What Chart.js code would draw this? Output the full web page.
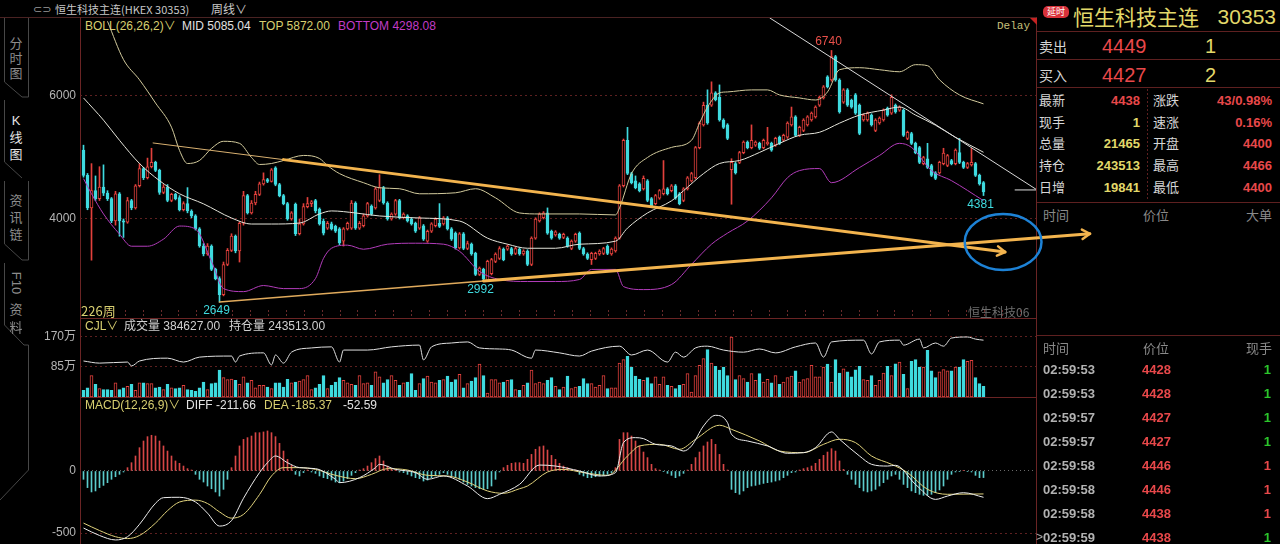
<!DOCTYPE html>
<html lang="zh-CN">
<head>
<meta charset="utf-8">
<title>恒生科技主连 周线</title>
<script src="https://cdn.jsdelivr.net/npm/chart.js@4.4.1/dist/chart.umd.min.js"></script>
<style>
  html, body { margin: 0; padding: 0; background: #000; }
  body { width: 1280px; height: 544px; position: relative; overflow: hidden;
         font-family: "Liberation Sans", "Noto Sans CJK SC", sans-serif; }
  canvas { position: absolute; }
  #main { z-index: 5; pointer-events: none; }
  .t { position: absolute; white-space: nowrap; line-height: 1; z-index: 3; }
  .ln { position: absolute; z-index: 2; }
  .badge { position: absolute; left: 1043px; top: 6px; width: 26px; height: 12px; background: #d8323a;
           border-radius: 5px; color: #fff; font-size: 9px; line-height: 12px; text-align: center;
           font-family: "Noto Sans CJK SC", sans-serif; }
  .tri { position: absolute; left: 1030px; top: 18px; width: 0; height: 0;
         border-top: 7px solid #c42222; border-left: 7px solid transparent; z-index: 6; }
</style>
</head>
<body>
<svg width="80" height="544" style="position:absolute;left:0;top:0" fill="none" stroke="#474747" stroke-width="1">
  <polyline points="4.5,18 4.5,82 22,97 28.5,97 28.5,18"/>
  <polyline points="4.5,100 4.5,162 22,178"/>
  <polyline points="4.5,181 4.5,244 22,260 28.5,260 28.5,181"/>
  <polyline points="4.5,263 4.5,325 24,345 28.5,345 28.5,470 0,500"/>
</svg>
<div class="badge">延时</div>
<div class="tri"></div>
<canvas id="main" width="1100" height="300" style="left:0;top:18px"></canvas>
<canvas id="vol" width="1036" height="67" style="left:0;top:330px"></canvas>
<canvas id="macd" width="1036" height="134" style="left:0;top:410px"></canvas>
<script>
// weekly candles (226 weeks)
var open = [
5120,4710,4180,4460,4330,4520,4420,4330,3970,4410,
3970,3950,4300,4180,4540,4820,4670,4850,4920,4790,
4430,4520,4300,4400,4350,4150,4250,4130,4050,3840,
3560,3430,3560,3180,3030,2770,3260,3490,3720,3480,
3930,4380,4100,4260,4400,4570,4640,4610,4830,4560,
4380,4250,4000,4240,3760,3920,4200,4250,4300,4160,
3960,3850,3920,3880,3840,3640,3840,3850,4260,3850,
3890,4050,4210,4180,4300,4510,4260,4000,4080,4300,
4020,4050,4000,3930,3850,3890,3640,3800,3890,3930,
3920,4020,3840,3770,3530,3760,3520,3590,3440,3100,
3180,3000,3110,3310,3360,3510,3510,3520,3440,3510,
3430,3480,3260,3690,3970,4020,4100,3800,3740,3750,
3700,3690,3520,3640,3770,3520,3430,3340,3360,3430,
3440,3560,3430,3480,3690,4540,5280,4740,4620,4570,
4490,4620,4330,4250,4340,4410,4490,4460,4540,4410,
4300,4490,4620,4670,5160,5530,5850,5850,6050,5980,
5610,5530,4800,4900,4920,5080,5250,5160,5200,5230,
5160,5220,5230,5200,5330,5280,5330,5530,5660,5360,
5440,5530,5610,5660,5850,5970,6310,6260,6640,6260,
5900,6100,5930,6020,5850,5610,5610,5690,5440,5560,
5610,5800,5720,5850,5770,5770,5310,5390,5230,5160,
4900,4980,4870,4750,4750,4900,4870,4950,4900,5080,
4920,4840,4880,4900,4710,4590
];
var high = [
5200,4740,4900,4700,4850,4880,4460,4350,4450,4430,
4000,4350,4320,4560,4900,4840,4990,5150,4940,4810,
4560,4560,4420,4420,4380,4280,4510,4150,4070,3860,
3600,3600,3580,3200,3060,3300,3520,3760,3740,3950,
4450,4400,4300,4450,4600,4750,4660,4820,4850,4580,
4400,4270,4120,4260,4000,4250,4350,4300,4320,4180,
4000,3960,3950,3900,3860,3860,3950,4300,4280,3960,
4080,4270,4230,4520,4720,4530,4280,4100,4320,4320,
4100,4070,4020,3950,4040,3910,3820,3940,4020,4250,
4040,4040,3860,3790,3780,3780,3640,3610,3460,3220,
3200,3330,3360,3450,3550,3530,3580,3540,3540,3530,
3500,3500,3710,4020,4100,4120,4180,3820,3810,3770,
3770,3710,3660,3770,3790,3540,3450,3460,3460,3500,
3540,3580,3530,3710,4560,5300,5490,4760,4700,4590,
4700,4640,4350,4400,4480,4950,4510,4560,4560,4430,
4510,4690,4760,5180,5580,5900,6100,6230,6070,6180,
5630,5550,4980,4920,5100,5270,5270,5530,5270,5250,
5300,5490,5250,5330,5350,5380,5580,5820,5680,5510,
5630,5680,5740,5840,6000,6170,6330,6740,6660,6280,
6120,6120,5950,6040,5870,5710,5740,5710,5630,5660,
5790,5820,6020,5870,5840,5790,5430,5410,5250,5180,
5020,5230,4890,4770,4940,5150,5050,4970,5140,5310,
4940,4920,5150,4920,4730,4610
];
var low = [
4680,4150,3330,4300,4300,4380,4300,3940,3900,3720,
3700,3930,4150,4160,4520,4640,4650,4830,4770,4400,
4410,4280,4280,4310,4130,4130,4100,4020,3820,3540,
3400,3410,3160,3010,2649,2750,3240,3470,3450,3300,
3900,4080,4080,4230,4380,4550,4590,4600,4540,4360,
4230,3980,3980,3730,3740,3900,4180,4200,4100,3900,
3740,3830,3820,3780,3580,3560,3820,3830,3830,3830,
3870,4030,4060,4160,4280,4240,3980,3980,4060,4000,
4000,3950,3900,3780,3830,3650,3620,3780,3870,3860,
3900,3820,3650,3510,3510,3500,3500,3410,3080,3080,
2992,2995,3090,3290,3340,3320,3490,3410,3420,3410,
3410,3240,3240,3670,3950,4000,3750,3670,3720,3670,
3680,3540,3500,3620,3500,3410,3340,3260,3340,3410,
3420,3420,3410,3460,3670,4520,4720,4570,4490,4440,
4470,4280,4190,4230,4320,4390,4390,4440,4320,4230,
4280,4470,4600,4650,5140,5510,5540,5830,5920,5590,
5470,5290,4240,4730,4900,5060,5140,5140,5180,5130,
5140,5200,5100,5180,5210,5260,5310,5510,5340,5340,
5420,5510,5590,5640,5830,5950,6130,6240,6240,5720,
5880,5830,5800,5700,5370,5590,5590,5510,5420,5540,
5590,5670,5700,5720,5750,5340,5290,5210,5060,4900,
4880,4820,4690,4640,4730,4880,4850,4880,4880,4900,
4820,4820,4860,4690,4550,4381
];
var close = [
4710,4180,4460,4330,4520,4420,4330,3970,4410,3970,
3950,4300,4180,4540,4820,4670,4850,4920,4790,4430,
4520,4300,4400,4330,4150,4250,4130,4050,3840,3560,
3430,3560,3180,3030,2770,3260,3490,3720,3480,3930,
4380,4100,4260,4400,4570,4640,4610,4800,4560,4380,
4250,4000,4100,3760,3920,4200,4250,4280,4130,3920,
3770,3930,3840,3800,3610,3840,3930,4260,3850,3930,
4050,4250,4080,4490,4510,4260,4000,4080,4300,4020,
4080,3970,3920,3800,4020,3670,3800,3920,4000,3880,
4020,3840,3670,3530,3760,3520,3600,3430,3100,3200,
3020,3310,3340,3430,3520,3340,3560,3430,3520,3430,
3480,3260,3690,4000,4080,4100,3770,3690,3790,3690,
3750,3560,3640,3750,3520,3430,3360,3440,3440,3480,
3520,3440,3510,3690,4540,5280,4740,4590,4510,4460,
4660,4300,4210,4380,4460,4490,4410,4540,4340,4250,
4490,4670,4740,5160,5560,5850,5560,6050,5940,5610,
5490,5310,4920,4750,5080,5250,5160,5280,5250,5150,
5280,5250,5120,5310,5230,5360,5560,5660,5360,5490,
5610,5660,5720,5820,5980,6150,6150,6640,6260,5740,
6100,5850,5820,5720,5390,5690,5720,5530,5610,5640,
5770,5690,5980,5740,5820,5360,5410,5230,5080,4920,
5000,4840,4710,4660,4920,5070,5030,4900,5120,4920,
4840,4900,4920,4710,4570,4438
];

// BOLL(26,26,2) bands, sampled [week, price]
var bollTop = [[6,7214],[10,6591],[14,6263],[18,5886],[22,5492],[24,5115],[26,4902],[29,4951],[32,5148],
  [35,5263],[39,5230],[42,5000],[44,4886],[47,4902],[50,4951],[55,5033],[59,4984],[61,4869],[64,4738],
  [70,4590],[74,4508],[79,4492],[84,4410],[93,4426],[98,4492],[103,4344],[109,4098],[114,4082],[124,4082],
  [133,4066],[134,4180],[137,4738],[141,5000],[147,5164],[152,5279],[154,5558],[156,5820],[159,6050],
  [161,6066],[167,6099],[171,6099],[174,6017],[179,5968],[183,5935],[186,6066],[189,6427],[194,6460],
  [199,6427],[204,6394],[208,6509],[211,6493],[214,6263],[219,6017],[225,5872]];
var bollMid = [[0,5968],[5,5607],[9,5279],[14,4902],[19,4623],[24,4410],[30,4246],[37,4016],[42,3918],
  [47,3918],[54,3934],[59,4082],[62,4131],[68,4098],[74,4049],[84,4016],[94,3967],[101,3688],[106,3590],
  [111,3524],[118,3524],[124,3590],[133,3639],[136,3852],[141,4098],[147,4295],[150,4459],[155,4738],
  [159,4902],[164,4951],[169,5082],[174,5230],[179,5361],[184,5410],[189,5558],[194,5689],[200,5771],
  [204,5820],[208,5689],[213,5525],[218,5328],[225,5085]];
var bollBot = [[0,4656],[2,4410],[5,4082],[9,3754],[12,3557],[16,3557],[20,3672],[24,3885],[28,3836],
  [32,3311],[35,2868],[40,2819],[45,2918],[50,2868],[54,2868],[58,3032],[60,3360],[62,3524],[66,3574],
  [70,3508],[76,3590],[83,3606],[90,3590],[94,3475],[99,3147],[104,3016],[111,2983],[118,2983],[124,3016],
  [127,3180],[133,3180],[135,2901],[140,2852],[147,2934],[152,3262],[157,3590],[161,3770],[166,3967],
  [172,4344],[176,4672],[179,4787],[184,4820],[187,4590],[194,4836],[199,5033],[204,5230],[207,5164],
  [212,4787],[217,4623],[225,4298]];

// volume per week, 万手
var volume = [
19,26,61,36,24,21,21,19,40,21,
26,30,36,19,40,40,38,38,26,28,
21,36,26,24,26,33,21,19,16,26,
42,21,38,40,76,55,49,51,47,36,
57,40,47,26,33,33,28,24,40,40,
28,50,40,42,45,49,61,21,26,36,
61,24,33,42,55,47,40,36,33,61,
38,40,33,71,57,40,49,61,47,33,
40,42,66,19,38,52,59,42,40,47,
49,59,42,49,64,26,38,45,55,93,
61,11,49,49,40,42,47,49,21,19,
33,40,76,38,42,38,47,55,30,21,
28,59,24,28,30,52,38,38,28,33,
61,24,26,26,96,106,115,85,59,50,
47,55,38,57,36,57,33,30,24,33,
36,66,14,61,90,109,134,96,87,76,
85,61,170,49,61,52,42,66,47,66,
42,50,40,61,36,42,55,59,74,42,
49,52,90,57,57,85,93,42,106,68,
80,71,57,77,87,49,47,61,33,47,
68,87,61,94,99,64,24,101,106,85,
85,132,74,55,71,78,74,74,85,85,
106,101,104,55,38,30
];
// open interest line (持仓), sampled [week, 万]
var cjlPts = [[0,102],[4,96],[11,99],[12,88],[14,102],[21,110],[25,99],[29,113],[37,116],[38,99],[39,116],
  [45,125],[47,91],[48,119],[50,96],[52,127],[57,139],[62,142],[64,99],[65,133],[71,133],[77,142],[84,147],
  [85,105],[87,142],[92,153],[96,156],[99,139],[104,136],[107,133],[112,110],[113,133],[119,125],[124,116],
  [127,130],[134,144],[137,119],[141,133],[146,99],[148,127],[150,113],[153,139],[156,144],[160,133],
  [165,127],[169,136],[173,125],[178,142],[183,153],[185,113],[187,156],[195,161],[197,122],[199,156],
  [204,161],[205,147],[209,164],[210,139],[213,153],[215,144],[217,167],[221,170],[223,164],[225,161]];

// MACD(12,26,9)
var macdHist = [
-67,-134,-169,-161,-134,-116,-94,-67,-46,-27,-8,
27,67,121,188,242,277,288,282,242,202,161,121,81,62,40,19,8,
-27,-67,-89,-121,-143,-169,-202,-148,-67,
27,121,202,255,269,282,309,309,315,323,309,277,223,161,94,46,
-27,-40,-13,8,
-8,-19,-40,-54,-62,-73,-89,-94,-81,-62,-35,-13,
8,19,40,67,100,121,81,40,19,8,
-8,-13,-27,-40,-54,-62,-81,-73,-54,-40,-27,-13,-27,-40,-54,-67,-89,-108,-121,-134,-143,-148,-143,-121,-67,
-8,27,46,62,67,67,
62,94,134,175,196,202,169,126,94,62,40,27,13,8,
-27,-40,-54,-54,-46,-40,-35,-27,-13,
27,255,309,309,282,242,202,153,108,54,19,8,
-3,-19,-35,-54,-40,-19,
8,54,108,153,202,234,255,215,134,54,8,
-148,-175,-188,-161,-134,-121,-116,-108,-100,-94,-89,-81,-73,-54,-35,-13,-8,
8,19,27,40,62,94,126,153,180,161,81,13,
-27,-67,-108,-134,-161,-169,-161,-148,-121,-94,-67,-40,-27,-67,-108,-134,-161,-175,-188,-196,-196,-188,-175,-153,-121,-67,-27,-8,-3,
3,-3,-8,-35,-54,-53
];
var diffPts = [[0,-460],[4,-520],[8,-556],[11,-530],[14,-430],[18,-260],[20,-215],[24,-212],[28,-250],
  [31,-340],[34,-444],[37,-400],[40,-220],[44,-13],[46,67],[48,121],[51,67],[54,27],[58,19],[63,-67],
  [64,-94],[69,-54],[73,27],[74,54],[78,13],[83,-13],[86,-67],[90,-40],[96,-121],[101,-223],[104,-188],
  [109,-108],[114,48],[118,40],[124,0],[129,-40],[133,-13],[135,229],[138,269],[140,261],[143,215],
  [147,202],[150,161],[152,202],[155,363],[158,449],[161,390],[162,296],[166,242],[171,202],[176,143],
  [180,148],[183,188],[187,315],[189,256],[194,121],[197,54],[201,40],[203,46],[208,-108],[213,-229],
  [216,-202],[220,-175],[225,-212]];
var deaPts = [[0,-420],[4,-480],[8,-530],[11,-545],[14,-520],[18,-420],[21,-320],[24,-250],[28,-235],
  [31,-262],[34,-330],[37,-380],[40,-350],[44,-190],[47,-40],[50,27],[54,27],[58,13],[63,-35],[68,-62],
  [72,-27],[76,19],[81,8],[86,-35],[91,-40],[96,-89],[101,-161],[105,-180],[109,-143],[111,-121],[116,-8],
  [120,13],[125,-13],[131,-35],[136,121],[139,202],[144,215],[149,175],[153,255],[159,369],[162,336],
  [169,242],[174,161],[180,148],[185,215],[189,256],[193,229],[197,121],[202,54],[206,-13],[211,-148],
  [216,-188],[225,-185]];

var priceTicks = [4000, 6000];
var volTicks = [85, 170];
var macdTicks = [-500, 0];

// hand-drawn lines on the chart, [week, price]
var trendUpper = [[17.4,5236],[50,4965],[230.4,3463]];
var trendLower = [[34,2649],[100,2992],[251.6,3760]];
var trendRes = [[171.6,7268],[238.4,4472]];
var flatMark = [[232.9,4472],[238.4,4472]];
var circleAt = [229.9, 3626];
var peakMarks = [
  { i: 187, v: 6740, kind: 'high' },
  { i: 34, v: 2649, kind: 'low' },
  { i: 100, v: 2992, kind: 'low' },
  { i: 225, v: 4381, kind: 'low' }
];

// right-hand quote panel
var quoteRows = [
  ['最新', '4438', '涨跌', '43/0.98%'],
  ['现手', '1', '速涨', '0.16%'],
  ['总量', '21465', '开盘', '4400'],
  ['持仓', '243513', '最高', '4466'],
  ['日增', '19841', '最低', '4400']
];
var ticksList = [
  ['02:59:53', '4428', '1', 'g'], ['02:59:53', '4428', '1', 'g'],
  ['02:59:57', '4427', '1', 'g'], ['02:59:57', '4427', '1', 'g'],
  ['02:59:58', '4446', '1', 'r'], ['02:59:58', '4446', '1', 'r'],
  ['02:59:58', '4438', '1', 'r'], ['02:59:59', '4438', '1', 'g']
];

// ---------------------------------------------------------------
var RED = '#e2403c', CYAN = '#3fdadf', YEL = '#d8cf70', GRID = '#5e2020';
var FONT = '"Liberation Sans", "Noto Sans CJK SC", sans-serif';
Chart.defaults.font.family = FONT;

function T(x, y, text, size, color, opt) {
  opt = opt || {};
  var d = document.createElement('div');
  d.className = 't';
  d.textContent = text;
  d.style.left = x + 'px';
  d.style.top = y + 'px';
  d.style.fontSize = size + 'px';
  d.style.color = color;
  var tx = opt.right ? '-100%' : (opt.center ? '-50%' : '0');
  d.style.transform = 'translate(' + tx + ',-50%)' + (opt.rot ? ' rotate(90deg)' : '');
  if (opt.bold) d.style.fontWeight = 'bold';
  if (opt.font) d.style.fontFamily = opt.font;
  document.body.appendChild(d);
}
function L(x, y, w, h, c) {
  var d = document.createElement('div');
  d.className = 'ln';
  d.style.cssText = 'left:' + x + 'px;top:' + y + 'px;width:' + w + 'px;height:' + h + 'px;background:' + c;
  document.body.appendChild(d);
}

// frame lines
L(0, 17, 1037, 1, '#4a2222');
L(80, 17, 1, 527, '#6a2424');
L(1036, 17, 1, 527, '#6a2424');
L(80, 318, 956, 1, '#6a2424');
L(80, 397, 956, 1, '#6a2424');
L(1037, 31, 243, 1, GRID); L(1037, 59, 243, 1, GRID); L(1037, 87, 243, 1, GRID);
L(1037, 202, 243, 1, GRID); L(1037, 335, 243, 1, GRID);
for (var yy = 89; yy < 200; yy += 4) L(1147, yy, 1, 2, GRID);

// header / tabs
T(33, 9, '⊂⊃', 11, '#9a9a9a', { font: '"DejaVu Sans", sans-serif' });
T(55, 9, '恒生科技主连(HKEX 30353)', 11, '#c8c8c8', { font: '"Noto Sans CJK SC", sans-serif' });
T(211, 9, '周线∨', 12, '#c8c8c8', { font: '"Noto Sans CJK SC", sans-serif' });
[['分', 43], ['时', 58], ['图', 73]].forEach(function (c) { T(16, c[1], c[0], 13, '#8c8c8c', { center: true }); });
[['K', 120], ['线', 137], ['图', 154]].forEach(function (c) { T(16, c[1], c[0], 13, '#e4e4e4', { center: true }); });
[['资', 200], ['讯', 217], ['链', 234]].forEach(function (c) { T(16, c[1], c[0], 13, '#8c8c8c', { center: true }); });
T(16, 283, 'F10', 13, '#8c8c8c', { center: true, rot: true });
T(16, 309, '资', 13, '#8c8c8c', { center: true });
T(16, 327, '料', 13, '#8c8c8c', { center: true });

// indicator captions
T(85, 26, 'BOLL(26,26,2)∨', 12, YEL);
T(182, 26, 'MID 5085.04', 12, '#e2e2e2');
T(259, 26, 'TOP 5872.00', 12, YEL);
T(338, 26, 'BOTTOM 4298.08', 12, '#c23cc6');
T(997, 26, 'Delay', 11, '#c8c07a', { font: '"Liberation Mono", "DejaVu Sans Mono", monospace' });
T(81, 310, '226周', 13, YEL, { font: '"Noto Sans CJK SC", sans-serif' });
T(968, 312, '恒生科技06', 12, '#6e6e6e', { font: '"Noto Sans CJK SC", sans-serif' });
T(85, 326, 'CJL∨', 12, YEL);
T(124, 326, '成交量 384627.00', 12, '#d0d0d0');
T(229, 326, '持仓量 243513.00', 12, '#d0d0d0');
T(85, 405, 'MACD(12,26,9)∨', 12, YEL);
T(186, 405, 'DIFF -211.66', 12, '#e2e2e2');
T(264, 405, 'DEA -185.37', 12, YEL);
T(343, 405, '-52.59', 12, '#e2e2e2');

// quote panel
var PY = '#e2d86a', PR = '#e8484a', PL = '#d6d6d6', PG = '#8a8a8a';
T(1073, 16, '恒生科技主连', 21, PY, { font: '"Noto Sans CJK SC", sans-serif' });
T(1276, 16, '30353', 21, PY, { right: true });
T(1039, 47, '卖出', 14, PL);
T(1102, 46, '4449', 20, PR);
T(1205, 46, '1', 20, PY);
T(1039, 76, '买入', 14, PL);
T(1102, 75, '4427', 20, PR);
T(1205, 75, '2', 20, PY);
var leftCol = [PR, PY, PY, PY, PY];
quoteRows.forEach(function (r, k) {
  var y = 100 + k * 21.7;
  T(1039, y, r[0], 13, PL);
  T(1140, y, r[1], 13, leftCol[k], { right: true, bold: true });
  T(1153, y, r[2], 13, PL);
  T(1272, y, r[3], 13, PR, { right: true, bold: true });
});
T(1043, 215, '时间', 13, PG); T(1143, 215, '价位', 13, PG); T(1272, 215, '大单', 13, PG, { right: true });
T(1043, 348, '时间', 13, PG); T(1143, 348, '价位', 13, PG); T(1272, 348, '现手', 13, PG, { right: true });
ticksList.forEach(function (r, k) {
  var y = 369 + k * 24;
  T(1043, y, r[0], 13, '#b2b2b2', { bold: true });
  T(1142, y, r[1], 13, PR, { bold: true });
  T(1271, y, r[2], 13, r[3] === 'g' ? '#2bc62b' : PR, { right: true, bold: true });
});
T(1036, 537, '>', 12, '#aaaaaa');

// ---------------------------------------------------------------
var weeks = close.map(function (_, i) { return i; });
var up = close.map(function (c, i) { return c >= open[i]; });
var xMin = -0.875, xMax = 238.125;
function pts(a) { return a.map(function (p) { return { x: p[0], y: p[1] }; }); }

function yAxis(min, max, ticks, fmt, dash) {
  return {
    type: 'linear', position: 'left', min: min, max: max,
    afterFit: function (s) { s.width = 80; s.paddingTop = 0; s.paddingBottom = 0; },
    afterBuildTicks: function (s) { s.ticks = ticks.map(function (v) { return { value: v }; }); },
    ticks: { color: '#b4b4b4', font: { size: 12 }, padding: 4, callback: fmt },
    grid: { color: function (c) { return c.tick && c.tick.value === 0 ? '#6a6a6a' : GRID; }, drawTicks: false },
    border: { display: false, dash: dash }
  };
}
var hiddenX = { type: 'linear', min: xMin, max: xMax, offset: false, display: false };
var common = {
  responsive: false, maintainAspectRatio: false, animation: false, devicePixelRatio: 1, events: [],
  layout: { padding: 0 },
  plugins: { legend: { display: false }, tooltip: { enabled: false } }
};
function lineDs(data, color, width) {
  return { type: 'line', data: data, borderColor: color, borderWidth: width || 1, pointRadius: 0,
           cubicInterpolationMode: 'monotone', fill: false, order: 0 };
}

// drawn trend lines, ellipse and high / low labels
var drawings = {
  id: 'drawings',
  afterDatasetsDraw: function (chart) {
    var ctx = chart.ctx, x = chart.scales.x, y = chart.scales.y, area = chart.chartArea;
    function P(p) { return [x.getPixelForValue(p[0]), y.getPixelForValue(p[1])]; }
    function seg(a, b, w, c) {
      ctx.strokeStyle = c; ctx.lineWidth = w;
      ctx.beginPath(); ctx.moveTo(a[0], a[1]); ctx.lineTo(b[0], b[1]); ctx.stroke();
    }
    function arrow(a, b, c) {
      var ang = Math.atan2(b[1] - a[1], b[0] - a[0]);
      ctx.strokeStyle = c; ctx.lineWidth = 2.5;
      ctx.beginPath();
      ctx.moveTo(b[0] - 9 * Math.cos(ang - 0.55), b[1] - 9 * Math.sin(ang - 0.55));
      ctx.lineTo(b[0], b[1]);
      ctx.lineTo(b[0] - 9 * Math.cos(ang + 0.55), b[1] - 9 * Math.sin(ang + 0.55));
      ctx.stroke();
    }
    ctx.save();
    ctx.lineCap = 'round'; ctx.lineJoin = 'round';
    var u = trendUpper.map(P), l = trendLower.map(P);
    seg(u[0], u[1], 1, '#d8b070');
    seg(u[1], u[2], 3, '#f3b44e');
    arrow(u[1], u[2], '#f3b44e');
    seg(l[0], l[1], 1.5, '#e0aa5c');
    seg(l[1], l[2], 3, '#f3b44e');
    arrow(l[1], l[2], '#f3b44e');

    ctx.save();
    ctx.beginPath(); ctx.rect(area.left, area.top, area.right - area.left, area.bottom - area.top); ctx.clip();
    var r = trendRes.map(P), f = flatMark.map(P);
    seg(r[0], r[1], 1, '#d8d8d8');
    seg(f[0], f[1], 1, '#e0e0e0');
    ctx.restore();

    var c = P(circleAt);
    var rx = x.getPixelForValue(circleAt[0] + 9.6) - c[0];
    ctx.strokeStyle = '#1d82d6'; ctx.lineWidth = 2.5;
    ctx.beginPath(); ctx.ellipse(c[0], c[1], rx, 28, 0, 0, Math.PI * 2); ctx.stroke();

    ctx.font = '12px ' + FONT; ctx.textAlign = 'center'; ctx.textBaseline = 'middle';
    peakMarks.forEach(function (m) {
      var p = P([m.i, m.v]);
      ctx.fillStyle = m.kind === 'high' ? '#e8504a' : CYAN;
      ctx.fillText(String(m.v), p[0] - 3, m.kind === 'high' ? p[1] - 9 : p[1] + 9);
    });
    ctx.restore();
  }
};

new Chart(document.getElementById('main'), {
  type: 'bar',
  data: { datasets: [
    lineDs(pts(bollTop), '#d2ca9c'),
    lineDs(pts(bollMid), '#e4e4da'),
    lineDs(pts(bollBot), '#b23cba'),
    { label: 'body', data: weeks.map(function (i) { return { x: i, y: [open[i], close[i]] }; }),
      backgroundColor: function (c) { return up[c.dataIndex] ? '#000' : CYAN; },
      borderColor: function (c) { return up[c.dataIndex] ? RED : CYAN; },
      borderWidth: 1, borderSkipped: false, barThickness: 3, grouped: false, minBarLength: 1, order: 1 },
    { label: 'wick', data: weeks.map(function (i) { return { x: i, y: [low[i], high[i]] }; }),
      backgroundColor: function (c) { return up[c.dataIndex] ? RED : CYAN; },
      barThickness: 1, grouped: false, order: 2 }
  ]},
  options: Object.assign({}, common, {
    layout: { padding: { right: 64 } },
    scales: {
      x: { type: 'linear', min: xMin, max: xMax, offset: false,
           afterFit: function (s) { s.height = 8; s.paddingLeft = 0; s.paddingRight = 0; },
           afterBuildTicks: function (s) {
             var t = [];
             for (var v = -0.75; v <= xMax; v += 4.475) t.push({ value: v });
             s.ticks = t;
           },
           ticks: { display: false },
           grid: { drawOnChartArea: false, drawTicks: true, tickLength: 8, tickColor: '#6a2a2a', tickBorderDash: [2, 2] },
           border: { display: false } },
      y: yAxis(2520, 7268, priceTicks, function (v) { return String(v); }, [2, 3])
    }
  }),
  plugins: [drawings]
});

new Chart(document.getElementById('vol'), {
  type: 'bar',
  data: { datasets: [
    lineDs(pts(cjlPts), '#e0e0e0'),
    { data: weeks.map(function (i) { return { x: i, y: volume[i] }; }),
      backgroundColor: function (c) { return up[c.dataIndex] ? '#000' : CYAN; },
      borderColor: function (c) { return up[c.dataIndex] ? RED : CYAN; },
      borderWidth: 1, borderSkipped: false, barThickness: 3, order: 1 }
  ]},
  options: Object.assign({}, common, {
    scales: { x: hiddenX, y: yAxis(0, 189.8, volTicks, function (v) { return v + '万'; }, [2, 3]) }
  })
});

new Chart(document.getElementById('macd'), {
  type: 'bar',
  data: { datasets: [
    lineDs(pts(diffPts), '#ececec'),
    lineDs(pts(deaPts), '#e0d27c'),
    { data: weeks.map(function (i) { return { x: i, y: macdHist[i] }; }),
      backgroundColor: function (c) { return macdHist[c.dataIndex] >= 0 ? '#d84646' : '#5ccccc'; },
      barThickness: 1, order: 1 }
  ]},
  options: Object.assign({}, common, {
    scales: { x: hiddenX,
      y: yAxis(-588.7, 491.9, macdTicks, function (v) { return String(v); },
        function (c) { return c.tick && c.tick.value === 0 ? [1, 3] : [2, 3]; }) }
  })
});
</script>
</body>
</html>
